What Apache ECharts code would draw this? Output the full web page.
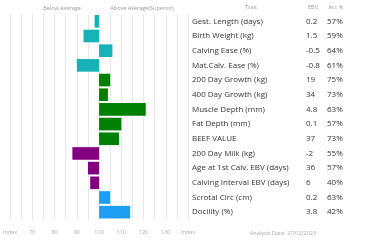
<!DOCTYPE html>
<html>
<head>
<meta charset="utf-8">
<script src="https://cdn.jsdelivr.net/npm/echarts@6/dist/echarts.min.js"></script>
<style>html,body{margin:0;padding:0;background:#fff;}#c{width:367px;height:242px;}</style>
</head>
<body>
<div id="c"></div>
<script>
const traits = ['Gest. Length (days)','Birth Weight (kg)','Calving Ease (%)','Mat.Calv. Ease (%)','200 Day Growth (kg)','400 Day Growth (kg)','Muscle Depth (mm)','Fat Depth (mm)','BEEF VALUE','200 Day Milk (kg)','Age at 1st Calv. EBV (days)','Calving Interval EBV (days)','Scrotal Circ (cm)','Docility (%)'];
const ebv = ['0.2','1.5','-0.5','-0.8','19','34','4.8','0.1','37','-2','36','6','0.2','3.8'];
const acc = ['57%','59%','64%','61%','75%','73%','63%','57%','73%','55%','57%','40%','63%','42%'];
const indexValues = [98,93,106,90,105,104,121,110,109,88,95,96,105,114];
const groups = [0,0,0,0,1,1,1,1,1,2,2,2,3,3];
const baseIndex = 100;

const palette = ['#17b2b8','#008000','#800080','#1e9ef0'];
const font = 'Open Sans';
const chart = echarts.init(document.getElementById('c'), null, {renderer:'canvas'});
const hiddenAxis = {show:true, axisLine:{show:false}, axisTick:{show:false}, splitLine:{show:false}};
const tableLabel = {margin:4, align:'left', fontSize:8, color:'#333', fontFamily:font, interval:0};
chart.setOption({
  animation:false,
  grid:{left:6, right:179, top:14, bottom:22.5, containLabel:false},
  xAxis:{
    type:'value', min:-40, max:40, interval:5,
    axisLine:{show:false}, axisTick:{show:false},
    splitLine:{show:true, lineStyle:{color:'#e8e8e8', width:1}},
    axisLabel:{show:true, showMinLabel:true, showMaxLabel:true, hideOverlap:false, margin:10, fontSize:5.5, color:'#aaa', fontFamily:font,
      formatter:function(v){ const r=Math.round(v); if(Math.abs(r)>=40) return 'Index'; return (r%10===0)? String(r+baseIndex) : ''; }}
  },
  yAxis:[
    {type:'category', data:traits, inverse:true, show:false},
    Object.assign({type:'category', data:traits, inverse:true, position:'right', offset:0, axisLabel:tableLabel}, hiddenAxis),
    Object.assign({type:'category', data:ebv, inverse:true, position:'right', offset:114, axisLabel:tableLabel}, hiddenAxis),
    Object.assign({type:'category', data:acc, inverse:true, position:'right', offset:135, axisLabel:tableLabel}, hiddenAxis)
  ],
  series:[{
    type:'bar', yAxisIndex:0, barWidth:'86%',
    data: indexValues.map((v,i)=>({value:v-baseIndex, itemStyle:{color:palette[groups[i]]}}))
  }],
  graphic:[
    {type:'text', x:62, y:8, style:{text:'Below Average', fontSize:5.5, fill:'#999', fontFamily:font, align:'center', verticalAlign:'middle'}},
    {type:'text', x:142, y:8, style:{text:'Above Average(Superior)', fontSize:5.5, fill:'#999', fontFamily:font, align:'center', verticalAlign:'middle'}},
    {type:'text', x:251, y:7, style:{text:'Trait', fontSize:5.5, fill:'#999', fontFamily:font, align:'center', verticalAlign:'middle'}},
    {type:'text', x:313, y:7, style:{text:'EBV', fontSize:5.5, fill:'#999', fontFamily:font, align:'center', verticalAlign:'middle'}},
    {type:'text', x:336, y:7, style:{text:'Acc %', fontSize:5.5, fill:'#999', fontFamily:font, align:'center', verticalAlign:'middle'}},
    {type:'text', x:283, y:233, style:{text:'Analysis Date: 27/02/2023', fontSize:5.5, fill:'#aaa', fontFamily:font, align:'center', verticalAlign:'middle'}}
  ]
});
</script>
</body>
</html>
